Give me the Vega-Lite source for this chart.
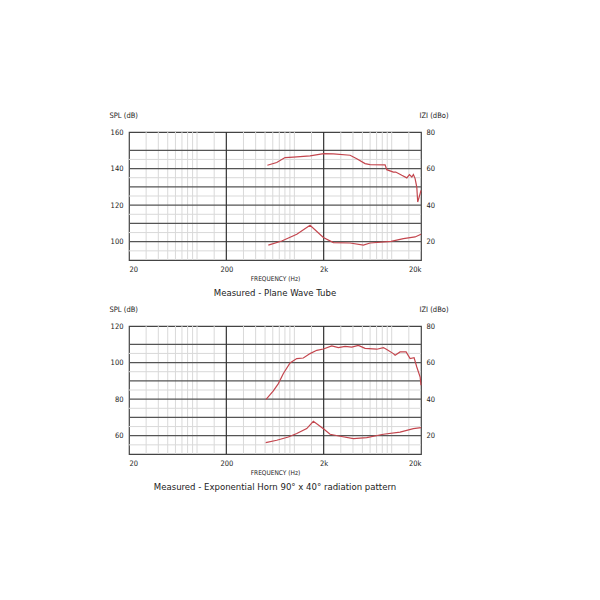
{
  "$schema": "https://vega.github.io/schema/vega-lite/v6.json",
  "padding": {"left": 108, "top": 110, "right": 5, "bottom": 5},
  "background": "white",
  "spacing": 5,
  "config": {
    "font": "DejaVu Sans Condensed, Roboto, sans-serif",
    "view": {"stroke": "#444", "strokeWidth": 1.2},
    "axis": {"labelFont": "DejaVu Sans Condensed, Roboto, sans-serif", "titleFont": "DejaVu Sans Condensed, Roboto, sans-serif", "labelFontSize": 7.5, "labelColor": "#222", "titleColor": "#222", "titleFontWeight": "normal", "ticks": false, "domain": false, "grid": false},
    "title": {"font": "DejaVu Sans Condensed, Roboto, sans-serif", "fontWeight": "normal", "fontSize": 9.5, "color": "#222"}
  },
  "datasets": {
    "xminor": [{"f":30},{"f":40},{"f":50},{"f":60},{"f":70},{"f":80},{"f":90},{"f":100},{"f":150},{"f":300},{"f":400},{"f":500},{"f":600},{"f":700},{"f":800},{"f":900},{"f":1000},{"f":1500},{"f":3000},{"f":4000},{"f":5000},{"f":6000},{"f":7000},{"f":8000},{"f":9000},{"f":10000},{"f":15000}],
    "xmajor": [{"f":200},{"f":2000}],
    "yminor1": [{"v":95},{"v":105},{"v":115},{"v":125},{"v":135},{"v":145}],
    "ymajor1": [{"v":100},{"v":110},{"v":120},{"v":130},{"v":140},{"v":150}],
    "yminor2": [{"v":55},{"v":65},{"v":75},{"v":85},{"v":95},{"v":105}],
    "ymajor2": [{"v":60},{"v":70},{"v":80},{"v":90},{"v":100},{"v":110}],
    "spl1": [{"f":528,"v":141.8},{"f":659,"v":143.3},{"f":802,"v":146.0},{"f":977,"v":146.3},{"f":1450,"v":146.9},{"f":2000,"v":148.2},{"f":2516,"v":148.0},{"f":3736,"v":147.3},{"f":4378,"v":145.4},{"f":5326,"v":142.7},{"f":5996,"v":142.2},{"f":8552,"v":142.0},{"f":8898,"v":139.4},{"f":10406,"v":138.1},{"f":11000,"v":138.1},{"f":12694,"v":136.3},{"f":14298,"v":134.9},{"f":15200,"v":136.7},{"f":16100,"v":135.4},{"f":16700,"v":136.7},{"f":17400,"v":134.5},{"f":18100,"v":129.9},{"f":18500,"v":121.7},{"f":19600,"v":126.3},{"f":20000,"v":128.1}],
    "imp1": [{"f":540,"v":18.1},{"f":742,"v":20.4},{"f":1059,"v":24.1},{"f":1450,"v":29.0},{"f":1986,"v":22.3},{"f":2516,"v":19.5},{"f":3736,"v":19.3},{"f":5120,"v":18.1},{"f":6000,"v":19.3},{"f":9860,"v":20.2},{"f":13190,"v":21.7},{"f":17400,"v":22.6},{"f":20000,"v":24.1}],
    "spl2": [{"f":512,"v":79.9},{"f":608,"v":84.5},{"f":685,"v":88.5},{"f":771,"v":94.0},{"f":903,"v":99.8},{"f":1058,"v":102.2},{"f":1236,"v":102.5},{"f":1450,"v":104.9},{"f":1699,"v":106.7},{"f":1986,"v":107.4},{"f":2422,"v":109.1},{"f":2832,"v":108.2},{"f":3319,"v":108.9},{"f":3888,"v":108.5},{"f":4547,"v":109.4},{"f":5326,"v":107.8},{"f":7030,"v":107.3},{"f":8220,"v":108.2},{"f":8900,"v":107.1},{"f":10400,"v":104.9},{"f":10840,"v":104.0},{"f":12190,"v":105.8},{"f":14060,"v":105.8},{"f":15450,"v":102.2},{"f":16980,"v":102.7},{"f":18100,"v":97.6},{"f":19600,"v":92.1},{"f":20000,"v":87.6}],
    "imp2": [{"f":508,"v":16.2},{"f":659,"v":17.5},{"f":867,"v":19.3},{"f":1058,"v":21.2},{"f":1340,"v":23.9},{"f":1567,"v":27.9},{"f":1837,"v":25.2},{"f":2018,"v":23.5},{"f":2328,"v":20.8},{"f":2952,"v":19.7},{"f":4040,"v":18.4},{"f":5540,"v":19.0},{"f":8220,"v":20.8},{"f":12190,"v":22.0},{"f":16700,"v":23.9},{"f":20000,"v":24.4}]
  },
  "vconcat": [
    {
      "width": 292, "height": 128,
      "title": {"text": "Measured - Plane Wave Tube", "orient": "bottom", "offset": 6},
      "layer": [
        {
          "layer": [
            {"data": {"name": "xminor"}, "mark": {"type": "rule", "color": "#d9d9d9", "strokeWidth": 1}, "encoding": {"x": {"field": "f", "type": "quantitative", "scale": {"type": "log", "domain": [20, 20000]}, "axis": {"values": [20, 200, 2000, 20000], "labelExpr": "datum.value >= 1000 ? (datum.value/1000) + 'k' : '' + datum.value", "title": "FREQUENCY (Hz)", "titleFontSize": 6.5, "titlePadding": 3, "labelPadding": 5}}}},
            {"data": {"name": "yminor1"}, "mark": {"type": "rule", "color": "#d9d9d9", "strokeWidth": 1}, "encoding": {"y": {"field": "v", "type": "quantitative", "scale": {"domain": [90, 160]}, "axis": {"values": [100, 120, 140, 160], "title": "SPL (dB)", "titleAngle": 0, "titleAlign": "left", "titleBaseline": "middle", "titleX": -20, "titleY": -17, "titleFontSize": 7.5, "labelPadding": 6}}}},
            {"data": {"name": "ymajor1"}, "mark": {"type": "rule", "color": "#555", "strokeWidth": 1.2}, "encoding": {"y": {"field": "v", "type": "quantitative", "scale": {"domain": [90, 160]}, "axis": {"values": [100, 120, 140, 160], "title": "SPL (dB)", "titleAngle": 0, "titleAlign": "left", "titleBaseline": "middle", "titleX": -20, "titleY": -17, "titleFontSize": 7.5, "labelPadding": 6}}}},
            {"data": {"name": "xmajor"}, "mark": {"type": "rule", "color": "#333", "strokeWidth": 1.2}, "encoding": {"x": {"field": "f", "type": "quantitative", "scale": {"type": "log", "domain": [20, 20000]}, "axis": {"values": [20, 200, 2000, 20000], "labelExpr": "datum.value >= 1000 ? (datum.value/1000) + 'k' : '' + datum.value", "title": "FREQUENCY (Hz)", "titleFontSize": 6.5, "titlePadding": 3, "labelPadding": 5}}}},
            {"data": {"name": "spl1"}, "mark": {"type": "line", "color": "#c4464e", "strokeWidth": 1.2}, "encoding": {"x": {"field": "f", "type": "quantitative", "scale": {"type": "log", "domain": [20, 20000]}, "axis": {"values": [20, 200, 2000, 20000], "labelExpr": "datum.value >= 1000 ? (datum.value/1000) + 'k' : '' + datum.value", "title": "FREQUENCY (Hz)", "titleFontSize": 6.5, "titlePadding": 3, "labelPadding": 5}}, "y": {"field": "v", "type": "quantitative", "scale": {"domain": [90, 160]}, "axis": {"values": [100, 120, 140, 160], "title": "SPL (dB)", "titleAngle": 0, "titleAlign": "left", "titleBaseline": "middle", "titleX": -20, "titleY": -17, "titleFontSize": 7.5, "labelPadding": 6}}}}
          ]
        },
        {"data": {"name": "imp1"}, "mark": {"type": "line", "color": "#c4464e", "strokeWidth": 1.2}, "encoding": {"x": {"field": "f", "type": "quantitative", "scale": {"type": "log", "domain": [20, 20000]}, "axis": {"values": [20, 200, 2000, 20000], "labelExpr": "datum.value >= 1000 ? (datum.value/1000) + 'k' : '' + datum.value", "title": "FREQUENCY (Hz)", "titleFontSize": 6.5, "titlePadding": 3, "labelPadding": 5}}, "y": {"field": "v", "type": "quantitative", "scale": {"domain": [10, 80]}, "axis": {"orient": "right", "values": [20, 40, 60, 80], "title": "IZI (dBo)", "titleAngle": 0, "titleAlign": "left", "titleBaseline": "middle", "titleX": -2, "titleY": -17, "titleFontSize": 7.5, "labelPadding": 5}}}}
      ],
      "resolve": {"scale": {"y": "independent"}}
    },
    {
      "width": 292, "height": 128,
      "title": {"text": "Measured - Exponential Horn 90° x 40° radiation pattern", "orient": "bottom", "offset": 6},
      "layer": [
        {
          "layer": [
            {"data": {"name": "xminor"}, "mark": {"type": "rule", "color": "#d9d9d9", "strokeWidth": 1}, "encoding": {"x": {"field": "f", "type": "quantitative", "scale": {"type": "log", "domain": [20, 20000]}, "axis": {"values": [20, 200, 2000, 20000], "labelExpr": "datum.value >= 1000 ? (datum.value/1000) + 'k' : '' + datum.value", "title": "FREQUENCY (Hz)", "titleFontSize": 6.5, "titlePadding": 3, "labelPadding": 5}}}},
            {"data": {"name": "yminor2"}, "mark": {"type": "rule", "color": "#d9d9d9", "strokeWidth": 1}, "encoding": {"y": {"field": "v", "type": "quantitative", "scale": {"domain": [50, 120]}, "axis": {"values": [60, 80, 100, 120], "title": "SPL (dB)", "titleAngle": 0, "titleAlign": "left", "titleBaseline": "middle", "titleX": -20, "titleY": -17, "titleFontSize": 7.5, "labelPadding": 6}}}},
            {"data": {"name": "ymajor2"}, "mark": {"type": "rule", "color": "#555", "strokeWidth": 1.2}, "encoding": {"y": {"field": "v", "type": "quantitative", "scale": {"domain": [50, 120]}, "axis": {"values": [60, 80, 100, 120], "title": "SPL (dB)", "titleAngle": 0, "titleAlign": "left", "titleBaseline": "middle", "titleX": -20, "titleY": -17, "titleFontSize": 7.5, "labelPadding": 6}}}},
            {"data": {"name": "xmajor"}, "mark": {"type": "rule", "color": "#333", "strokeWidth": 1.2}, "encoding": {"x": {"field": "f", "type": "quantitative", "scale": {"type": "log", "domain": [20, 20000]}, "axis": {"values": [20, 200, 2000, 20000], "labelExpr": "datum.value >= 1000 ? (datum.value/1000) + 'k' : '' + datum.value", "title": "FREQUENCY (Hz)", "titleFontSize": 6.5, "titlePadding": 3, "labelPadding": 5}}}},
            {"data": {"name": "spl2"}, "mark": {"type": "line", "color": "#c4464e", "strokeWidth": 1.2}, "encoding": {"x": {"field": "f", "type": "quantitative", "scale": {"type": "log", "domain": [20, 20000]}, "axis": {"values": [20, 200, 2000, 20000], "labelExpr": "datum.value >= 1000 ? (datum.value/1000) + 'k' : '' + datum.value", "title": "FREQUENCY (Hz)", "titleFontSize": 6.5, "titlePadding": 3, "labelPadding": 5}}, "y": {"field": "v", "type": "quantitative", "scale": {"domain": [50, 120]}, "axis": {"values": [60, 80, 100, 120], "title": "SPL (dB)", "titleAngle": 0, "titleAlign": "left", "titleBaseline": "middle", "titleX": -20, "titleY": -17, "titleFontSize": 7.5, "labelPadding": 6}}}}
          ]
        },
        {"data": {"name": "imp2"}, "mark": {"type": "line", "color": "#c4464e", "strokeWidth": 1.2}, "encoding": {"x": {"field": "f", "type": "quantitative", "scale": {"type": "log", "domain": [20, 20000]}, "axis": {"values": [20, 200, 2000, 20000], "labelExpr": "datum.value >= 1000 ? (datum.value/1000) + 'k' : '' + datum.value", "title": "FREQUENCY (Hz)", "titleFontSize": 6.5, "titlePadding": 3, "labelPadding": 5}}, "y": {"field": "v", "type": "quantitative", "scale": {"domain": [10, 80]}, "axis": {"orient": "right", "values": [20, 40, 60, 80], "title": "IZI (dBo)", "titleAngle": 0, "titleAlign": "left", "titleBaseline": "middle", "titleX": -2, "titleY": -17, "titleFontSize": 7.5, "labelPadding": 5}}}}
      ],
      "resolve": {"scale": {"y": "independent"}}
    }
  ]
}
